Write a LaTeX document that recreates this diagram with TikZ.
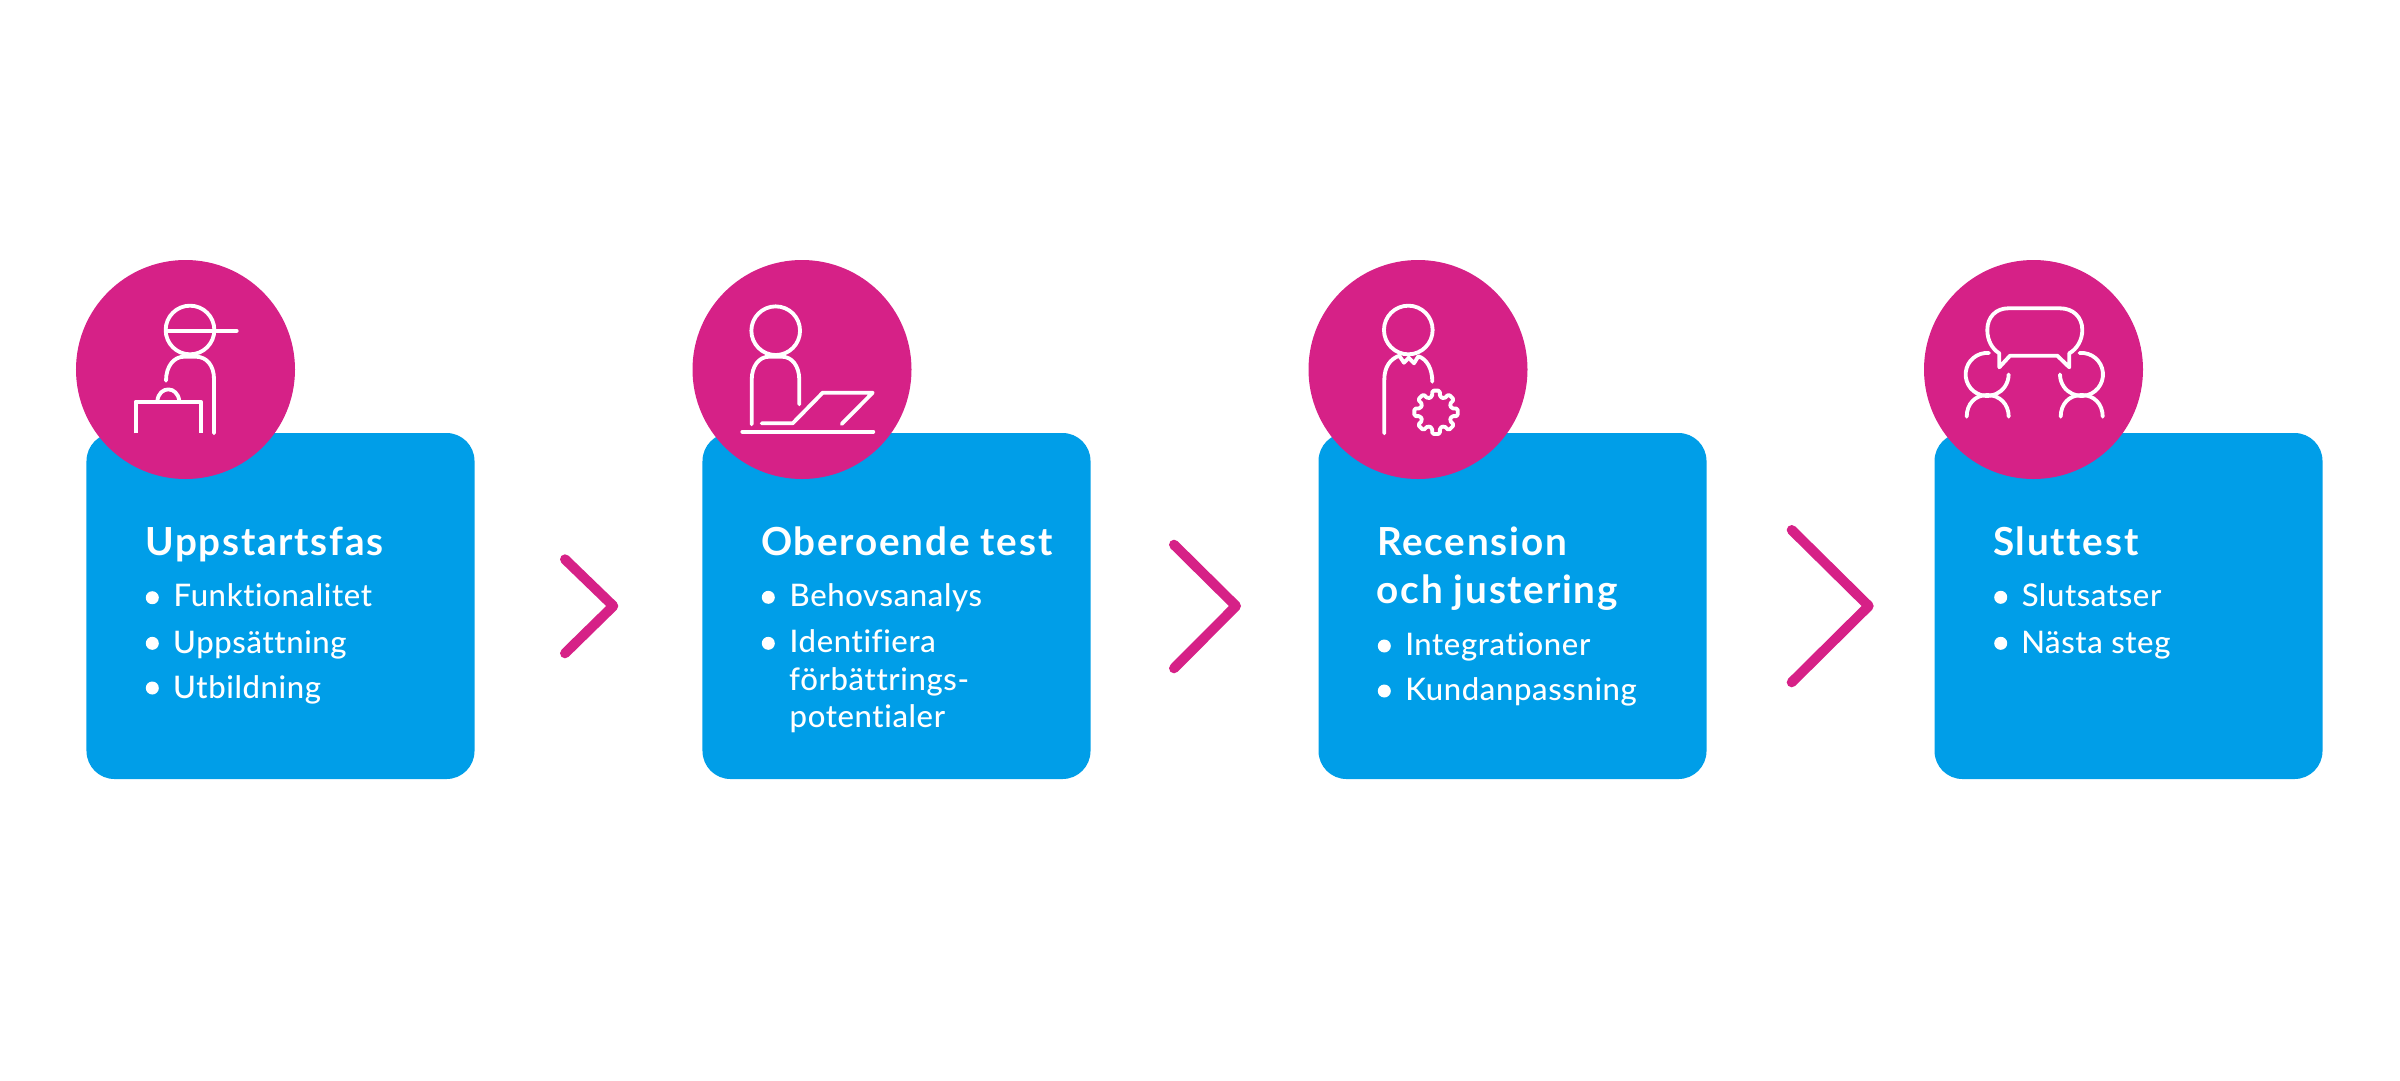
\documentclass[tikz,border=0pt]{standalone}
\usepackage{fontspec}
\setmainfont{Lato}
\newfontfamily\headingface{Lato}[LetterSpace=4.5,Ligatures=NoCommon,RawFeature={-liga;-clig;-dlig}]
\newfontfamily\entryface{Lato Medium}[LetterSpace=2,Ligatures=NoCommon,RawFeature={-liga;-clig;-dlig}]
\definecolor{brandpink}{RGB}{214,33,135}
\definecolor{brandblue}{RGB}{0,158,232}
\tikzset{
  x=0.03cm, y=-0.03cm,
  card/.style={rectangle, fill=brandblue, rounded corners=0.84cm, inner sep=0pt,
    minimum width=11.64cm, minimum height=10.38cm},
  disc/.style={circle, fill=brandpink, inner sep=0pt, minimum size=6.57cm},
  glyph/.style={draw=white, line width=0.115cm, line join=round},
  chevron/.style={draw=brandpink, line width=0.3cm, line cap=round, line join=round},
  heading/.style={anchor=base west, text=white, inner sep=0pt, font=\fontsize{33}{38}\headingface\bfseries},
  entry/.style={anchor=base west, text=white, inner sep=0pt, font=\fontsize{26.5}{30}\entryface},
  dot/.style={circle, fill=white, inner sep=0pt, minimum size=0.39cm},
}
\begin{document}
\begin{tikzpicture}
\useasboundingbox (0,0) rectangle (2400,1080);

% cards
\node[card] (card1) at (280.5,606) {};
\node[card] (card2) at (896.5,606) {};
\node[card] (card3) at (1512.5,606) {};
\node[card] (card4) at (2128.5,606) {};

% discs holding the icons
\node[disc] (disc1) at (185.5,369.5) {};
\node[disc] (disc2) at (802,369.5) {};
\node[disc] (disc3) at (1418,369.5) {};
\node[disc] (disc4) at (2033.5,369.5) {};

% chevrons between the cards
\draw[chevron] (565,559.3) -- (613.3,606) -- (565,653.3);
\draw[chevron] (1174,544.7) -- (1236,606) -- (1174,668.3);
\draw[chevron] (1791.7,530) -- (1868.7,606) -- (1791.7,682.3);

% icon: person with cap and briefcase
\draw[glyph] (190,330) circle [radius=0.73cm];
\draw[glyph,line cap=round] (166,330.7) -- (236.7,330.7);
\draw[glyph,line cap=round] (166,380.7) .. controls (166,366) and (174,356.7) .. (184,356.7)
  -- (196,356.7) .. controls (207,356.7) and (214,366) .. (214,379) -- (214,433.3);
\draw[glyph] (135.7,433.3) -- (135.7,401.7) -- (201,401.7) -- (201,433.3);
\draw[glyph] (157.3,401) .. controls (159,385.5) and (177.5,385.5) .. (179.3,401);

% icon: person at a laptop
\draw[glyph] (775.7,330.7) circle [radius=0.73cm];
\draw[glyph,line cap=round] (751.7,424.3) -- (751.7,380) .. controls (751.7,366) and (759,356.7) .. (769,356.7)
  -- (782,356.7) .. controls (792,356.7) and (799.3,366) .. (799.3,380) -- (799.3,404.3);
\draw[glyph,line cap=round] (761.7,423.3) -- (792.7,423.3) -- (822.7,392.7) -- (872.7,392.7) -- (841.7,424);
\draw[glyph,line cap=round] (742.3,431.7) -- (873.3,431.7);

% icon: person with cogwheel
\draw[glyph] (1408.3,330) circle [radius=0.73cm];
\draw[glyph,line cap=round] (1384.3,433.3) -- (1384.3,380) .. controls (1384.3,367) and (1390,359) .. (1399.3,355.7)
  -- (1404,362.7) -- (1408.7,357.7) -- (1414,363.3) -- (1418.3,356.3)
  .. controls (1427,359) and (1432.3,369) .. (1432.3,381.7);
\begin{scope}[shift={(1436,412.3)}]
  \draw[glyph,rounded corners=0.045cm]
    (-14:0.48cm)
    -- (-10:0.66cm) -- (10:0.66cm) -- (14:0.48cm)
    -- (31:0.48cm) -- (35:0.66cm) -- (55:0.66cm) -- (59:0.48cm)
    -- (76:0.48cm) -- (80:0.66cm) -- (100:0.66cm) -- (104:0.48cm)
    -- (121:0.48cm) -- (125:0.66cm) -- (145:0.66cm) -- (149:0.48cm)
    -- (166:0.48cm) -- (170:0.66cm) -- (190:0.66cm) -- (194:0.48cm)
    -- (211:0.48cm) -- (215:0.66cm) -- (235:0.66cm) -- (239:0.48cm)
    -- (256:0.48cm) -- (260:0.66cm) -- (280:0.66cm) -- (284:0.48cm)
    -- (301:0.48cm) -- (305:0.66cm) -- (325:0.66cm) -- (329:0.48cm)
    -- cycle;
\end{scope}

% icon: two people in conversation
\draw[glyph] (2010,355.7) -- (1999.3,367.3) -- (1999.3,353.3)
  .. controls (1992,349) and (1987.3,340) .. (1987.3,330)
  .. controls (1987.3,317) and (1996,308.3) .. (2008.3,308.3)
  -- (2060,308.3)
  .. controls (2073,308.3) and (2082.3,317) .. (2082.3,330)
  .. controls (2082.3,340) and (2077,349) .. (2069.3,353.3)
  -- (2069.3,367.3) -- (2057.3,355.7) -- cycle;
\draw[glyph,line cap=round] (1989,353) arc[start angle=85,end angle=360,radius=0.645cm];
\draw[glyph,line cap=round] (1966.7,416.7) .. controls (1966.7,404) and (1975,395) .. (1987.3,395)
  .. controls (1999.5,395) and (2008.7,404) .. (2008.7,416.7);
\draw[glyph,line cap=round] (2079.6,353) arc[start angle=95,end angle=-180,radius=0.645cm];
\draw[glyph,line cap=round] (2060.7,416.7) .. controls (2060.7,404) and (2069,395) .. (2081.7,395)
  .. controls (2094,395) and (2102.7,404) .. (2102.7,416.7);

% card 1 text
\node[heading] (t1) at (145,555.5) {Uppstartsfas};
\node[dot] (b11) at (152.3,597.7) {};
\node[entry] (e11) at (173.5,606.7) {Funktionalitet};
\node[dot] (b12) at (152.3,643.3) {};
\node[entry] (e12) at (173,653) {Uppsättning};
\node[dot] (b13) at (152.3,688) {};
\node[entry] (e13) at (173,698.5) {Utbildning};

% card 2 text
\node[heading] (t2) at (761,555.5) {Oberoende test};
\node[dot] (b21) at (768.3,597.3) {};
\node[entry] (e21) at (789.5,606.7) {Behovsanalys};
\node[dot] (b22) at (768.3,643.3) {};
\node[entry] (e22) at (789.5,652.7) {Identifiera};
\node[entry] (e23) at (789,690) {förbättrings-};
\node[entry] (e24) at (789.5,727) {potentialer};

% card 3 text
\node[heading] (t3a) at (1377,555) {Recension};
\node[heading] (t3b) at (1376.5,603.3) {och justering};
\node[dot] (b31) at (1384.3,646) {};
\node[entry] (e31) at (1405,655) {Integrationer};
\node[dot] (b32) at (1384.3,691) {};
\node[entry] (e32) at (1405,700) {Kundanpassning};

% card 4 text
\node[heading] (t4) at (1993,555.5) {Sluttest};
\node[dot] (b41) at (2000.7,597.3) {};
\node[entry] (e41) at (2021.5,606.7) {Slutsatser};
\node[dot] (b42) at (2000.7,643.3) {};
\node[entry] (e42) at (2021,653) {Nästa steg};
\end{tikzpicture}
\end{document}
